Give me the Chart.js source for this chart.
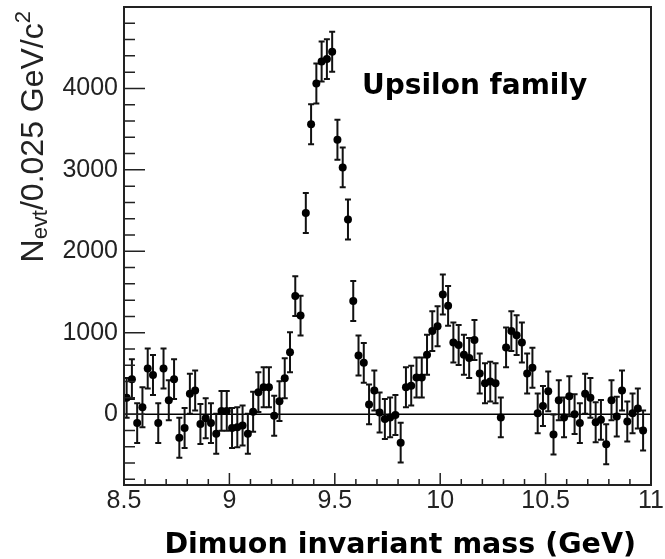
<!DOCTYPE html>
<html>
<head>
<meta charset="utf-8">
<script src="https://cdn.jsdelivr.net/npm/chart.js@4/dist/chart.umd.min.js"></script>
<style>
    html, body { margin: 0; padding: 0; background: #fff; }
    #wrap { width: 665px; height: 559px; }
</style>
</head>
<body>
<div id="wrap"><canvas id="chart" width="665" height="559"></canvas></div>
<script>
// Binning: 0.025 GeV per bin, starting at 8.5 GeV
const massMin = 8.5;
const binWidth = 0.025;

// Events per bin (background subtracted)
const counts8p5 = [200, 430, -110, 85, 560, 480, -110, 560, 170, 430,
                   -290, -170, 250, 290, -120, -50, -110, -240, 40, 40,
                   -170, -160, -140, -240, 30];
const counts9p1 = [270, 330, 330, -20, 160, 440, 760, 1450, 1210, 2470,
                   3560, 4060, 4330, 4360, 4450, 3370, 3030, 2390, 1390, 720,
                   630, 120, 290, 20, -60];
const counts9p75 = [-40, -10, -350, 330, 350, 450, 450, 730, 1020, 1080,
                    1470, 1330, 880, 850, 730, 690, 910, 500, 380, 400,
                    380, -40, 820, 1020, 970];
const counts10p4 = [880, 500, 570, 10, 100, 280, -250, 170, -40, 220,
                    0, -110, 250, 200, -100, -70, -370, 170, -30, 290,
                    -90, 10, 70, -200, null];
const errHalf = 245;

const xTickLabels = ['8.5', '9', '9.5', '10', '10.5', '11'];
const yTickLabels = ['0', '1000', '2000', '3000', '4000'];

const counts = [...counts8p5, ...counts9p1, ...counts9p75, ...counts10p4];
const points = counts.map((c, i) => ({ x: massMin + (i + 0.5) * binWidth, y: c }));

const rootStyle = {
    id: 'rootStyle',
    beforeDatasetsDraw(chart) {
        const { ctx, chartArea: a, scales: { x, y } } = chart;
        ctx.save();
        ctx.beginPath();
        ctx.rect(a.left, a.top, a.right - a.left, a.bottom - a.top);
        ctx.clip();
        // zero line
        const y0 = y.getPixelForValue(0);
        ctx.strokeStyle = '#000';
        ctx.lineWidth = 1.5;
        ctx.beginPath();
        ctx.moveTo(a.left, y0);
        ctx.lineTo(a.right, y0);
        ctx.stroke();
        // error bars
        ctx.lineWidth = 2;
        ctx.strokeStyle = '#111';
        points.forEach(p => {
            if (p.y == null) return;
            const px = x.getPixelForValue(p.x);
            const hi = y.getPixelForValue(p.y + errHalf);
            const lo = y.getPixelForValue(p.y - errHalf);
            ctx.beginPath();
            ctx.moveTo(px, hi); ctx.lineTo(px, lo);
            ctx.moveTo(px - 3, hi); ctx.lineTo(px + 3, hi);
            ctx.moveTo(px - 3, lo); ctx.lineTo(px + 3, lo);
            ctx.stroke();
        });
        ctx.restore();
    },
    afterDraw(chart) {
        const { ctx, chartArea: a, scales: { x, y } } = chart;
        ctx.save();
        // frame
        ctx.strokeStyle = '#222';
        ctx.lineWidth = 2;
        ctx.strokeRect(a.left, a.top, a.right - a.left, a.bottom - a.top);
        // inside ticks
        ctx.lineWidth = 1.5;
        ctx.beginPath();
        for (let k = -4; k <= 25; k++) {
            const v = k * 200;
            const py = y.getPixelForValue(v);
            if (py < a.top || py > a.bottom) continue;
            const len = (v % 1000 === 0) ? 21 : 11;
            ctx.moveTo(a.left, py);
            ctx.lineTo(a.left + len, py);
        }
        for (let k = 85; k <= 110; k++) {
            const px = x.getPixelForValue(k / 10);
            const len = (k % 5 === 0) ? 12 : 6;
            ctx.moveTo(px, a.bottom);
            ctx.lineTo(px, a.bottom - len);
        }
        ctx.stroke();

        ctx.fillStyle = '#000';
        // x title
        ctx.font = 'bold 28.5px "DejaVu Sans"';
        ctx.textAlign = 'right';
        ctx.textBaseline = 'alphabetic';
        ctx.fillText('Dimuon invariant mass (GeV)', 636, 553);

        // label inside the plot
        ctx.textAlign = 'left';
        ctx.font = 'bold 28px "DejaVu Sans"';
        ctx.fillText('Upsilon family', 362, 94);

        // y title with sub/superscript
        const big = '32px "Liberation Sans"';
        const small = '22px "Liberation Sans"';
        const parts = [
            { t: 'N', f: big, dy: 0 },
            { t: 'evt', f: small, dy: 4 },
            { t: '/0.025 GeV/c', f: big, dy: 0 },
            { t: '2', f: small, dy: -13 }
        ];
        let total = 0;
        parts.forEach(p => { ctx.font = p.f; p.w = ctx.measureText(p.t).width; total += p.w; });
        ctx.translate(43, 11 + total);
        ctx.rotate(-Math.PI / 2);
        ctx.fillStyle = '#222';
        let cx = 0;
        parts.forEach(p => {
            ctx.font = p.f;
            ctx.fillText(p.t, cx, p.dy);
            cx += p.w;
        });
        ctx.restore();
    }
};

new Chart(document.getElementById('chart'), {
    type: 'scatter',
    data: {
        datasets: [{
            data: points,
            pointRadius: 4,
            pointHoverRadius: 4,
            pointBackgroundColor: '#000',
            pointBorderWidth: 0,
            showLine: false
        }]
    },
    options: {
        responsive: false,
        animation: false,
        events: [],
        layout: { padding: { top: 7, right: 14, left: 0, bottom: 0 } },
        plugins: { legend: { display: false }, tooltip: { enabled: false } },
        scales: {
            x: {
                type: 'linear',
                min: 8.5,
                max: 11,
                afterBuildTicks: s => { s.ticks = xTickLabels.map(t => ({ value: Number(t) })); },
                afterFit: s => { s.height = 74; s.paddingLeft = 0; s.paddingRight = 0; },
                grid: { display: false, drawTicks: false },
                border: { display: false },
                ticks: {
                    padding: 1,
                    color: '#222',
                    font: { family: '"Liberation Sans"', size: 25 },
                    callback: v => xTickLabels.find(t => Number(t) === v) || ''
                }
            },
            y: {
                min: -870,
                max: 5000,
                afterBuildTicks: s => { s.ticks = yTickLabels.map(t => ({ value: Number(t) })); },
                afterFit: s => { s.width = 124; s.paddingTop = 0; s.paddingBottom = 0; },
                grid: { display: false, drawTicks: false },
                border: { display: false },
                ticks: {
                    padding: 6,
                    color: '#222',
                    font: { family: '"Liberation Sans"', size: 25 },
                    callback: v => yTickLabels.find(t => Number(t) === v) || ''
                }
            }
        }
    },
    plugins: [rootStyle]
});
</script>
</body>
</html>
